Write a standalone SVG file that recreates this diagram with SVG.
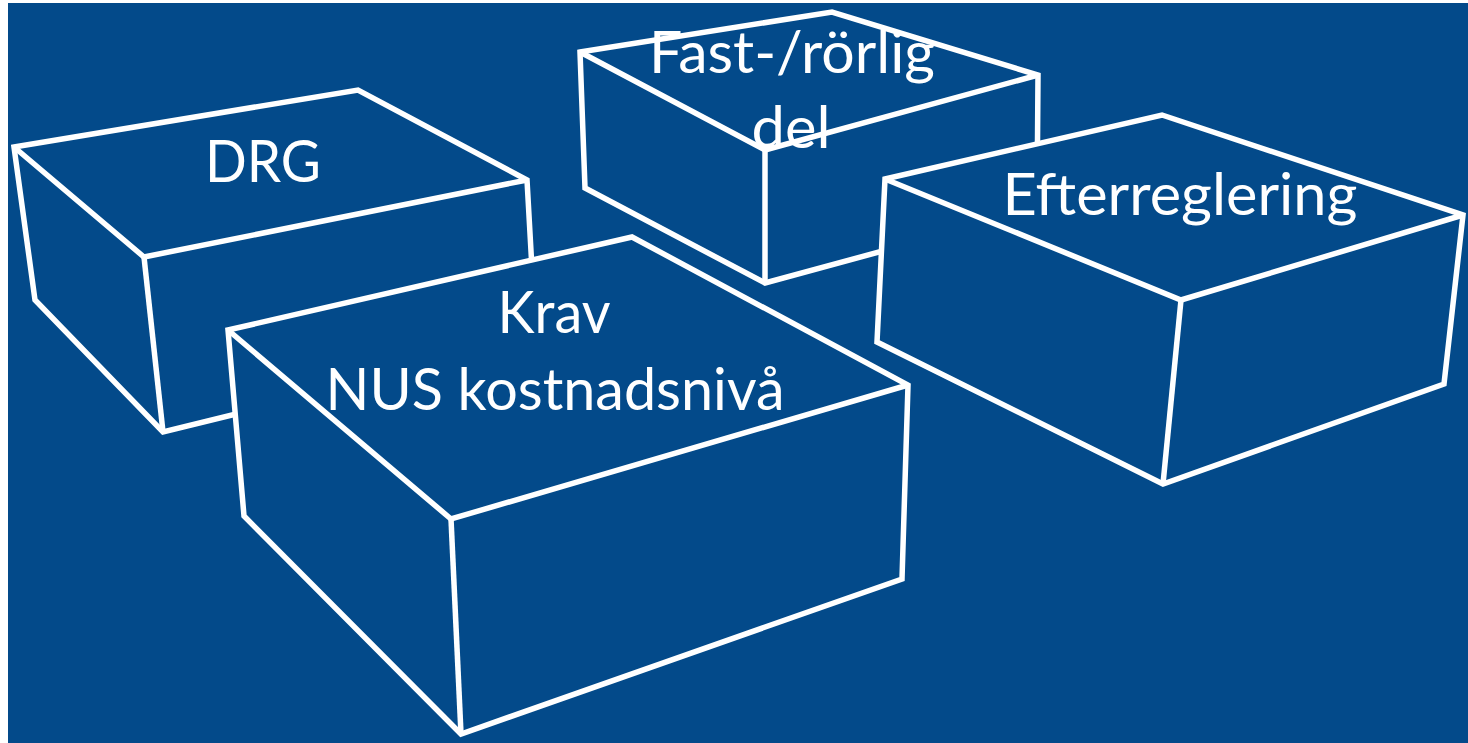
<svg xmlns="http://www.w3.org/2000/svg" width="1468" height="743" viewBox="0 0 1468 743">
<style>
.face{fill:#034A8A;stroke:#FFFFFF;stroke-width:5.5;stroke-linejoin:miter}
.edge{fill:none;stroke:#FFFFFF;stroke-width:5.5;stroke-linejoin:miter}
.lbl{font-family:Lato,"Open Sans",sans-serif;font-size:59px;fill:#FFFFFF;text-anchor:middle}
</style>
<rect x="0" y="0" width="1468" height="743" fill="#FFFFFF"/>
<rect x="8" y="3" width="1460" height="740" fill="#034A8A"/>
<g id="box-drg">
<polygon class="face" points="14,147 358,90 527,180 536,340 163,432 35,300"/>
<polyline class="edge" points="14,147 144,257 527,180"/>
<line class="edge" x1="144" y1="257" x2="163" y2="432"/>
<text class="lbl" x="263" y="182" textLength="116" lengthAdjust="spacingAndGlyphs">DRG</text>
</g>
<g id="box-fast">
<polygon class="face" points="580,52 832,12 1038,75 1037,209 765,283 585,188"/>
<polyline class="edge" points="580,52 765,150 1038,75"/>
<line class="edge" x1="765" y1="150" x2="765" y2="283"/>
<text class="lbl" x="792" y="73" textLength="286" lengthAdjust="spacingAndGlyphs">Fast-/rörlig</text>
<text class="lbl" x="791" y="148" textLength="79" lengthAdjust="spacingAndGlyphs">del</text>
</g>
<g id="box-efter">
<polygon class="face" points="885,179 1162,115 1463,215 1444,384 1163,484 877,342"/>
<polyline class="edge" points="885,179 1181,300 1463,215"/>
<line class="edge" x1="1181" y1="300" x2="1163" y2="484"/>
<text class="lbl" x="1180" y="215" textLength="355" lengthAdjust="spacingAndGlyphs">Efterreglering</text>
</g>
<g id="box-krav">
<polygon class="face" points="228,330 632,237 908,385 902,579 461,734 244,516"/>
<polyline class="edge" points="228,330 451,519 908,385"/>
<line class="edge" x1="451" y1="519" x2="461" y2="734"/>
<text class="lbl" x="554" y="333" textLength="113" lengthAdjust="spacingAndGlyphs">Krav</text>
<text class="lbl" x="555" y="410" textLength="459" lengthAdjust="spacingAndGlyphs">NUS kostnadsnivå</text>
</g>
<g id="connectors"/>
</svg>
